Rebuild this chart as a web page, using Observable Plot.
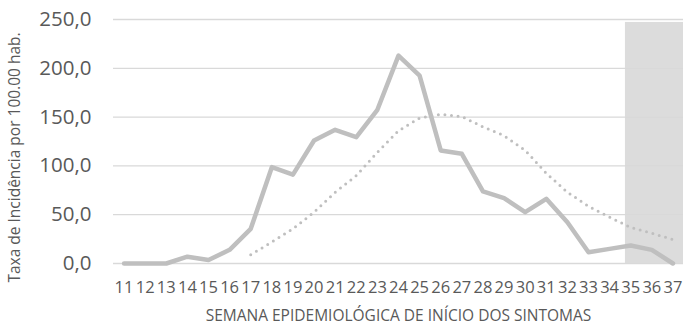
<!DOCTYPE html>
<html>
<head>
<meta charset="utf-8">
<script src="https://cdn.jsdelivr.net/npm/d3@7"></script>
<script src="https://cdn.jsdelivr.net/npm/@observablehq/plot@0.6"></script>
<style>
  html, body { margin: 0; padding: 0; background: #fff; }
  #chart svg { display: block; }
</style>
</head>
<body>
<div id="chart"></div>
<script>
const weeks = [11,12,13,14,15,16,17,18,19,20,21,22,23,24,25,26,27,28,29,30,31,32,33,34,35,36,37];
const incidence = [0,0,0,7,3.5,14,35.5,98.7,91,126,137,129.5,157.5,213,192.6,115.8,112.4,73.8,67,52.6,66.3,42.3,11.6,15,18.4,14,0];
const avgWeeks = [17,18,19,20,21,22,23,24,25,26,27,28,29,30,31,32,33,34,35,36,37];
const movingAvg = [9,22,35.5,52.6,73,90,114,136,149,152.7,150.6,140,131,116,92.5,73,58.7,47.5,37,31,24.6];
const yTicks = [0,50,100,150,200,250];
const shadedWeeks = [34.75, 37.5];
const shadedTop = 247;
const yTitle = "Taxa de Incidência por 100.00 hab.";
const xTitle = "SEMANA EPIDEMIOLÓGICA DE INÍCIO DOS SINTOMAS";

const solid = weeks.map((w, i) => ({week: w, value: incidence[i]}));
const dotted = avgWeeks.map((w, i) => ({week: w, value: movingAvg[i]}));
const fmt = d => d.toFixed(1).replace(".", ",");

const chart = Plot.plot({
  width: 683,
  height: 326,
  marginLeft: 113,
  marginRight: 0,
  marginTop: 19,
  marginBottom: 63,
  style: {fontFamily: "'Open Sans', sans-serif", color: "#595959", background: "#fff"},
  x: {domain: [10.5, 37.5]},
  y: {domain: [0, 250]},
  marks: [
    Plot.rectY([{x1: shadedWeeks[0], x2: shadedWeeks[1], y: shadedTop}], {x1: "x1", x2: "x2", y: "y", fill: "#dcdcdc"}),
    Plot.gridY(yTicks, {stroke: "#d9d9d9", strokeOpacity: 1, strokeWidth: 1.3}),
    Plot.axisY(yTicks, {tickSize: 0, tickPadding: 22, tickFormat: fmt, fontSize: 20.5, fill: "#595959", label: null}),
    Plot.axisX(weeks, {tickSize: 0, tickPadding: 18, tickFormat: d => String(d), fontSize: 16.5, letterSpacing: -0.4, fill: "#595959", label: null}),
    Plot.line(dotted, {x: "week", y: "value", stroke: "#bfbfbf", strokeWidth: 3, strokeDasharray: "0,6.6", strokeLinecap: "round"}),
    Plot.line(solid, {x: "week", y: "value", stroke: "#bfbfbf", strokeWidth: 4.5, strokeLinejoin: "round", strokeLinecap: "round"}),
    Plot.text([yTitle], {frameAnchor: "left", dx: -98, dy: 16, rotate: -90, textAnchor: "middle", text: d => d, fontSize: 15.5, fill: "#595959"}),
    Plot.text([xTitle], {frameAnchor: "bottom", lineAnchor: "middle", dy: 53, text: d => d, fontSize: 15.5, fill: "#595959"})
  ]
});
document.getElementById("chart").appendChild(chart);
</script>
</body>
</html>
